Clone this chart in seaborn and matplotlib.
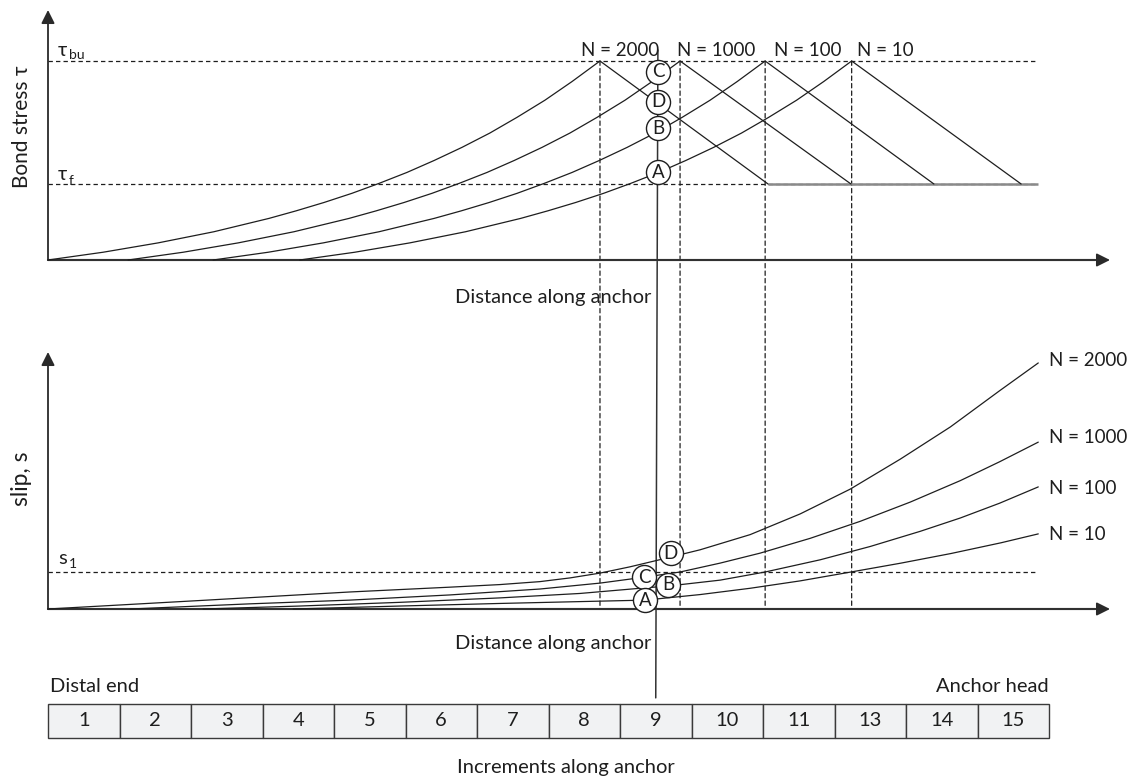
import matplotlib
matplotlib.use("Agg")
import matplotlib.pyplot as plt
import pandas as pd
import seaborn as sns
from matplotlib.patches import ConnectionPatch, Rectangle

# ---------------------------------------------------------------------------
# Data: distance along the anchor is measured in increment widths,
# bond stress in units of tau_bu, slip in units of s_1.
# ---------------------------------------------------------------------------
cycle_labels = ["N = 2000", "N = 1000", "N = 100", "N = 10"]

tau_bu = 1.0
tau_f = 0.382
tau_end = 13.85

# bond stress distributions (rising branch up to the peak, then softening)
tau_x_2000 = [0.00, 0.77, 1.54, 2.32, 3.09, 3.47, 3.86, 4.25, 4.63, 5.02, 5.40,
              5.79, 6.18, 6.56, 6.95, 7.33, 7.72, 10.07]
tau_x_1000 = [1.12, 1.89, 2.66, 3.44, 4.21, 4.59, 4.98, 5.37, 5.75, 6.14, 6.52,
              6.91, 7.30, 7.68, 8.07, 8.45, 8.84, 11.23]
tau_x_100 = [2.31, 3.08, 3.85, 4.63, 5.40, 5.78, 6.17, 6.56, 6.94, 7.33, 7.71,
             8.10, 8.49, 8.87, 9.26, 9.64, 10.03, 12.39]
tau_x_10 = [3.52, 4.29, 5.06, 5.84, 6.61, 6.99, 7.38, 7.77, 8.15, 8.54, 8.92,
            9.31, 9.70, 10.08, 10.47, 10.85, 11.24, 13.61]
tau_y_2000 = [0.0, 0.039, 0.086, 0.142, 0.209, 0.247, 0.289, 0.335, 0.385, 0.440,
              0.500, 0.566, 0.638, 0.717, 0.803, 0.897, 1.0, 0.382]
tau_y_1000 = [0.0, 0.039, 0.086, 0.142, 0.209, 0.247, 0.289, 0.335, 0.385, 0.440,
              0.500, 0.566, 0.638, 0.717, 0.803, 0.897, 1.0, 0.382]
tau_y_100 = [0.0, 0.039, 0.086, 0.142, 0.209, 0.247, 0.289, 0.335, 0.385, 0.440,
             0.500, 0.566, 0.638, 0.717, 0.803, 0.897, 1.0, 0.382]
tau_y_10 = [0.0, 0.039, 0.086, 0.142, 0.209, 0.247, 0.289, 0.335, 0.385, 0.440,
            0.500, 0.566, 0.638, 0.717, 0.803, 0.897, 1.0, 0.382]

peak_x = [7.72, 8.84, 10.03, 11.24]
softened_start_x = 10.07

# slip distributions
s_1 = 1.0
slip_x_2000 = [0.00, 2.13, 4.22, 5.62, 6.32, 6.88, 7.30, 7.72, 8.14, 8.53, 9.12,
               9.82, 10.52, 11.22, 11.92, 12.62, 13.31, 13.85]
slip_y_2000 = [0.00, 0.23, 0.46, 0.59, 0.66, 0.74, 0.84, 0.97, 1.14, 1.32, 1.60,
               2.01, 2.57, 3.24, 4.05, 4.92, 5.90, 6.65]
slip_x_1000 = [1.15, 2.83, 4.22, 5.62, 6.88, 7.72, 8.34, 8.84, 9.40, 9.96, 10.66,
               11.36, 12.06, 12.76, 13.31, 13.85]
slip_y_1000 = [0.00, 0.14, 0.24, 0.38, 0.54, 0.70, 0.86, 1.00, 1.24, 1.51, 1.91,
               2.37, 2.89, 3.47, 3.98, 4.51]
slip_x_100 = [2.17, 3.52, 4.92, 6.32, 7.44, 8.34, 8.67, 9.40, 10.03, 10.80, 11.50,
              12.20, 12.76, 13.31, 13.85]
slip_y_100 = [0.00, 0.08, 0.18, 0.30, 0.42, 0.57, 0.62, 0.78, 1.00, 1.33, 1.69,
              2.10, 2.46, 2.86, 3.30]
slip_x_10 = [3.43, 4.92, 6.32, 7.44, 8.35, 9.12, 9.82, 10.52, 11.23, 11.93, 12.63,
             13.33, 13.85]
slip_y_10 = [0.00, 0.08, 0.15, 0.20, 0.24, 0.39, 0.56, 0.76, 1.00, 1.24, 1.50,
             1.79, 2.03]

# marked states in increment 9
tau_mark_labels = ["C", "D", "B", "A"]
tau_mark_x = [8.53, 8.53, 8.53, 8.53]
tau_mark_y = [0.945, 0.794, 0.663, 0.442]
slip_mark_labels = ["D", "C", "B", "A"]
slip_mark_x = [8.71, 8.34, 8.67, 8.35]
slip_mark_y = [1.51, 0.86, 0.65, 0.24]

increment_labels = ["1", "2", "3", "4", "5", "6", "7", "8", "9", "10", "11", "13", "14", "15"]

# ---------------------------------------------------------------------------
sns.set_theme(style="white")
plt.rcParams["font.family"] = ["Lato", "DejaVu Sans"]

W, H = 1135, 778
fig = plt.figure(figsize=(W / 100, H / 100), dpi=100)

X0, XU = 48, 71.5          # pixel of zero distance, pixels per increment


def axes_box(px_left, px_right, py_top, py_bottom):
    return [px_left / W, 1 - py_bottom / H, (px_right - px_left) / W, (py_bottom - py_top) / H]


def xlim_px(a, b):
    return ((a - X0) / XU, (b - X0) / XU)


ink = "#1e1e1e"
lw = 0.9
FS = 14.5

# -- bond stress panel -------------------------------------------------------
TY0, TYU = 260, 199
ax_t = fig.add_axes(axes_box(20, 1125, 0, 280))
ax_t.set_xlim(*xlim_px(20, 1125))
ax_t.set_ylim((TY0 - 280) / TYU, TY0 / TYU)

# -- slip panel --------------------------------------------------------------
SY0, SYU = 609, 37
ax_s = fig.add_axes(axes_box(20, 1125, 340, 625))
ax_s.set_xlim(*xlim_px(20, 1125))
ax_s.set_ylim((SY0 - 625) / SYU, (SY0 - 340) / SYU)

# -- increment strip ---------------------------------------------------------
ax_b = fig.add_axes(axes_box(48, 1049, 704, 738))
ax_b.set_xlim(0, 14)
ax_b.set_ylim(0, 1)

for ax in (ax_t, ax_s, ax_b):
    ax.set_axis_off()
    ax.patch.set_visible(False)

tau_df = pd.concat([
    pd.DataFrame({"x": tau_x_2000, "y": tau_y_2000, "N": 2000}),
    pd.DataFrame({"x": tau_x_1000, "y": tau_y_1000, "N": 1000}),
    pd.DataFrame({"x": tau_x_100, "y": tau_y_100, "N": 100}),
    pd.DataFrame({"x": tau_x_10, "y": tau_y_10, "N": 10}),
])
slip_df = pd.concat([
    pd.DataFrame({"x": slip_x_2000, "y": slip_y_2000, "N": 2000}),
    pd.DataFrame({"x": slip_x_1000, "y": slip_y_1000, "N": 1000}),
    pd.DataFrame({"x": slip_x_100, "y": slip_y_100, "N": 100}),
    pd.DataFrame({"x": slip_x_10, "y": slip_y_10, "N": 10}),
])

# axes drawn as arrows
arrow_kw = dict(arrowstyle="-|>", mutation_scale=20, lw=1.3, color="#2a2a2a",
                shrinkA=0, shrinkB=0)
for ax, ytop in ((ax_t, (TY0 - 10) / TYU), (ax_s, (SY0 - 352) / SYU)):
    ax.annotate("", xy=(0, ytop), xytext=(0, 0), arrowprops=arrow_kw, annotation_clip=False)
    ax.annotate("", xy=((1110 - X0) / XU, 0), xytext=(0, 0),
                arrowprops=arrow_kw, annotation_clip=False)
    ax.plot([0, (1095 - X0) / XU], [0, 0], color="#7a7a7a", lw=1.6, zorder=2.5)

# reference levels
dash = dict(color=ink, lw=0.9, ls=(0, (3.5, 2.5)))
ax_t.plot([0, tau_end], [tau_bu, tau_bu], **dash)
ax_t.plot([0, tau_end], [tau_f, tau_f], **dash)
ax_s.plot([0, tau_end], [s_1, s_1], **dash)

# softened plateau
ax_t.plot([softened_start_x, tau_end], [tau_f, tau_f], color="#8a8a8a", lw=1.8, zorder=2.6,
          solid_capstyle="butt")

sns.lineplot(data=tau_df, x="x", y="y", units="N", estimator=None, sort=False,
             color=ink, lw=lw, ax=ax_t, zorder=3)
sns.lineplot(data=slip_df, x="x", y="y", units="N", estimator=None, sort=False,
             color=ink, lw=lw, ax=ax_s, zorder=3)

# vertical guides at the peak positions, down to the slip axis
for px in peak_x:
    con = ConnectionPatch(xyA=(px, tau_bu), coordsA=ax_t.transData,
                          xyB=(px, 0), coordsB=ax_s.transData,
                          color=ink, lw=0.9, ls=(0, (3.5, 2.5)), zorder=-1)
    fig.add_artist(con)

# link from increment 9 through both panels
link = ConnectionPatch(xyA=(8.53, (TY0 - 50) / TYU), coordsA=ax_t.transData,
                       xyB=(8.50, 1.18), coordsB=ax_b.transData,
                       color="#333333", lw=1.1, zorder=-1)
fig.add_artist(link)

# marked states
for ax, xs, ys, labs in ((ax_t, tau_mark_x, tau_mark_y, tau_mark_labels),
                         (ax_s, slip_mark_x, slip_mark_y, slip_mark_labels)):
    sns.scatterplot(x=xs, y=ys, s=300, color="white", edgecolor=ink, linewidth=1.0,
                    ax=ax, zorder=6, legend=False)
    for x, y, t in zip(xs, ys, labs):
        ax.text(x, y, t, ha="center", va="center", fontsize=13.5, color=ink, zorder=7)

# increment strip
for i, lab in enumerate(increment_labels):
    ax_b.add_patch(Rectangle((i, 0), 1, 1, facecolor="#f1f2f3", edgecolor="#3a3a3a",
                             lw=1.0, clip_on=False))
    ax_b.text(i + 0.5, 0.5, lab, ha="center", va="center", fontsize=FS, color=ink)


def ftext(px, py, s, **kw):
    kw.setdefault("fontsize", FS)
    kw.setdefault("color", ink)
    fig.text(px / W, 1 - py / H, s, **kw)


ftext(22, 127, "Bond stress τ", rotation=90, ha="center", va="center", fontsize=15)
ftext(22, 479, "slip, s", rotation=90, ha="center", va="center", fontsize=16.5)
ftext(553, 298, "Distance along anchor", ha="center", va="center")
ftext(553, 643, "Distance along anchor", ha="center", va="center")
ftext(566, 767, "Increments along anchor", ha="center", va="center")
ftext(50, 687, "Distal end", ha="left", va="center")
ftext(1049, 687, "Anchor head", ha="right", va="center")

# level labels with subscripts
ftext(58, 51, "τ", ha="left", va="center")
ftext(69, 55, "bu", ha="left", va="center", fontsize=10)
ftext(58, 175, "τ", ha="left", va="center")
ftext(69, 181, "f", ha="left", va="center", fontsize=10)
ftext(58, 558, "s", ha="left", va="center")
ftext(69, 564, "1", ha="left", va="center", fontsize=10)

# cycle labels
for cx, lab in zip([620, 716, 808, 885], cycle_labels):
    ftext(cx, 50, lab, ha="center", va="center", fontsize=13.5)
for cy, lab in zip([360, 437, 488, 534], cycle_labels):
    ftext(1049, cy, lab, ha="left", va="center", fontsize=13.5)

fig.savefig("out.png", dpi=100, facecolor="white")
